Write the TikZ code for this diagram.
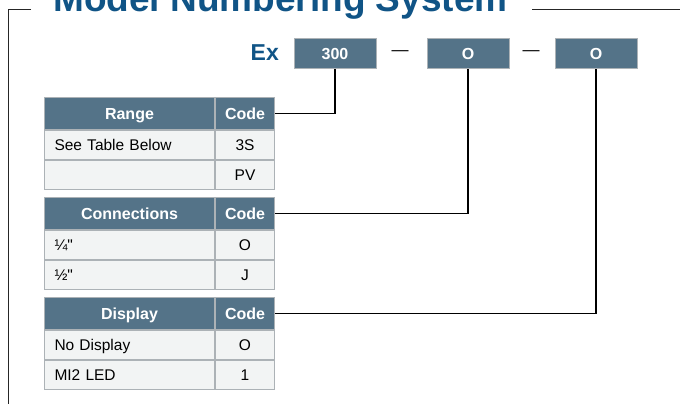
\documentclass[tikz,border=0pt]{standalone}
\usepackage{fontspec}
\setmainfont{Liberation Sans}
\usetikzlibrary{positioning}

\definecolor{hdrblue}{RGB}{84,115,136}
\definecolor{cellgrey}{RGB}{242,244,244}
\definecolor{linegrey}{RGB}{172,178,182}
\definecolor{titleblue}{RGB}{16,84,134}

\tikzset{
    hdrL/.style={draw=linegrey, line width=1pt, fill=hdrblue, text=white, font=\fontsize{16}{18}\selectfont\bfseries,
        text width=150pt, align=center, inner xsep=10pt, inner ysep=0pt, text height=11.5pt, text depth=0pt,
        minimum height=32pt, anchor=north west},
    hdrR/.style={draw=linegrey, line width=1pt, fill=hdrblue, text=white, font=\fontsize{16}{18}\selectfont\bfseries,
        minimum width=59pt, minimum height=32pt, inner sep=0pt, text height=11.5pt, text depth=0pt},
    cellL/.style={draw=linegrey, line width=1pt, fill=cellgrey, font=\fontsize{15.5}{18}\selectfont,
        text width=150pt, align=left, inner xsep=10pt, inner ysep=0pt, text height=11pt, text depth=0pt,
        minimum height=29pt},
    cellR/.style={draw=linegrey, line width=1pt, fill=cellgrey, font=\fontsize{15.5}{18}\selectfont,
        minimum width=59pt, minimum height=29pt, inner sep=0pt, text height=11pt, text depth=0pt},
    codebox/.style={draw=linegrey, line width=1pt, fill=hdrblue, text=white, font=\fontsize{16}{18}\selectfont\bfseries,
        minimum width=82pt, minimum height=30pt, inner sep=0pt, text height=11.5pt, text depth=0pt},
    conn/.style={line width=1.3pt, black},
}

\begin{document}
\begin{tikzpicture}[x=1pt, y=-1pt]
            \useasboundingbox (0, 0) rectangle (680, 404);

            % frame and title
            \draw[line width=1.5pt, black!85] (31, 9.5) -- (8.5, 9.5) -- (8.5, 410);
            \draw[line width=1.5pt, black!85] (532, 9.5) -- (690, 9.5);
            \node[anchor=base west, inner sep=0pt, text=titleblue, font=\fontsize{37}{40}\selectfont\bfseries]
                (title) at (53, 11.5) {Model Numbering System};

            % model number
            \node[anchor=base east, inner sep=0pt, text=titleblue, font=\fontsize{23}{24}\selectfont\bfseries] (ex) at (279, 60) {Ex};
            \node[codebox] (box1) at (335, 54) {300};
            \node[font=\fontsize{17}{18}\selectfont] (dash1) at (400, 53) {\textemdash};
            \node[codebox] (box2) at (468, 54) {O};
            \node[font=\fontsize{17}{18}\selectfont] (dash2) at (531, 53) {\textemdash};
            \node[codebox] (box3) at (596, 54) {O};

            % range
            \node[hdrL] (rangeH) at (44, 97) {Range};
            \node[hdrR, right=0pt of rangeH] (rangeC) {Code};
            \node[cellL, below=0pt of rangeH] (range1) {See Table Below};
            \node[cellR, right=0pt of range1] (range1c) {3S};
            \node[cellL, below=0pt of range1] (range2) {};
            \node[cellR, right=0pt of range2] (range2c) {PV};

            % connections
            \node[hdrL] (connH) at (44, 197) {Connections};
            \node[hdrR, right=0pt of connH] (connC) {Code};
            \node[cellL, below=0pt of connH] (conn1) {¼\textquotedbl};
            \node[cellR, right=0pt of conn1] (conn1c) {O};
            \node[cellL, below=0pt of conn1] (conn2) {½\textquotedbl};
            \node[cellR, right=0pt of conn2] (conn2c) {J};

            % display
            \node[hdrL] (dispH) at (44, 297) {Display};
            \node[hdrR, right=0pt of dispH] (dispC) {Code};
            \node[cellL, below=0pt of dispH] (disp1) {No Display};
            \node[cellR, right=0pt of disp1] (disp1c) {O};
            \node[cellL, below=0pt of disp1] (disp2) {MI2 LED};
            \node[cellR, right=0pt of disp2] (disp2c) {1};

            \draw[conn] (rangeC.east) -| (box1.south);
            \draw[conn] (connC.east) -| (box2.south);
            \draw[conn] (dispC.east) -| (box3.south);
        \end{tikzpicture}
\end{document}
